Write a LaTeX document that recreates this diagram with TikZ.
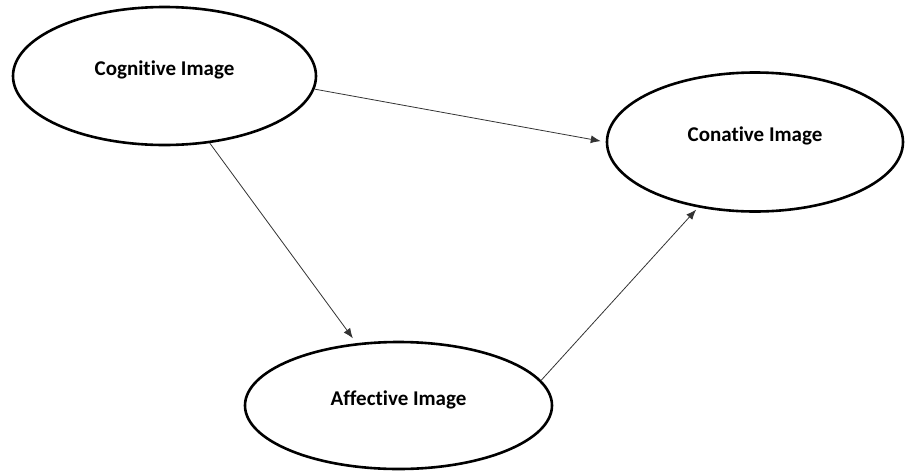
\documentclass[tikz,border=0pt]{standalone}
\usepackage{fontspec}
\setmainfont{Carlito}[Ligatures=NoCommon]
\usetikzlibrary{shapes.geometric, arrows.meta}

\begin{document}
\begin{tikzpicture}[x=1pt, y=-1pt,
    imagebox/.style={ellipse, draw, line width=2.6pt, inner sep=0pt,
        font=\fontsize{21}{24}\selectfont\bfseries, text height=15pt, text depth=16pt},
    link/.style={-{Latex[length=10pt,width=8pt]}, line width=0.8pt, draw=black!80}]
    \useasboundingbox (0,0) rectangle (905,472);

    % Image constructs
    \node[imagebox, minimum width=303pt, minimum height=138pt] (cog) at (164.5,76) {Cognitive Image};
    \node[imagebox, minimum width=296pt, minimum height=139pt] (con) at (755,142) {Conative Image};
    \node[imagebox, minimum width=307pt, minimum height=127pt] (aff) at (398.5,405.5) {Affective Image};

    % Paths
    \draw[link, shorten >=5pt] (cog.-5) -- (con.180);
    \draw[link, shorten >=6pt] (cog.-56) -- (aff.124);
    \draw[link, shorten >=3pt] (aff.10) -- (con.229);
\end{tikzpicture}
\end{document}
